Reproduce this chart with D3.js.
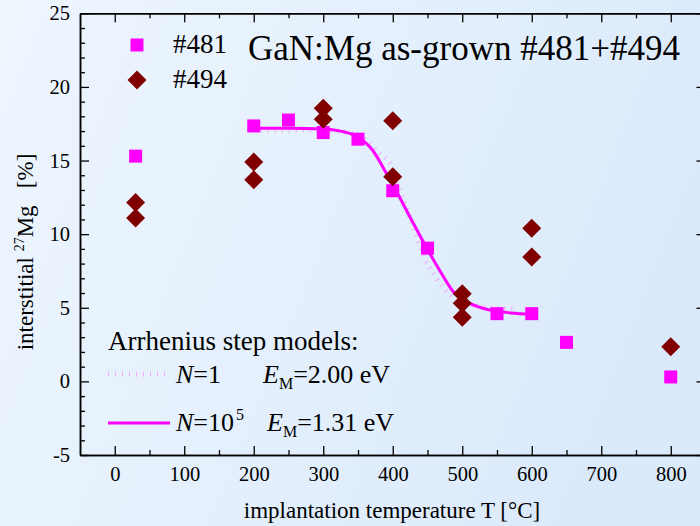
<!DOCTYPE html>
<html>
<head>
<meta charset="utf-8">
<script src="https://cdn.jsdelivr.net/npm/d3@7"></script>
<style>
  body { margin: 0; }
  svg text { font-family: "Liberation Serif", "Times New Roman", serif; fill: #000; }
</style>
</head>
<body>
<div id="chart"></div>
<script>
// sample #481 (squares)
const temp481 = [30, 200, 250, 300, 350, 400, 450, 550, 600, 650, 800];
const val481 = [15.3, 17.35, 17.75, 16.9, 16.45, 12.95, 9.05, 4.6, 4.6, 2.65, 0.3];
// sample #494 (diamonds)
const temp494 = [30, 30, 200, 200, 300, 300, 400, 400, 500, 500, 500, 600, 600, 800];
const val494 = [12.15, 11.1, 14.9, 13.7, 18.55, 17.8, 17.7, 13.9, 5.95, 5.3, 4.35, 10.4, 8.45, 2.35];
// Arrhenius step model N=10^5, E=1.31 eV
const fitTempN5 = [200, 250, 300, 325, 350, 371, 390, 411, 430, 449, 468, 487, 511, 540, 570, 600];
const fitValN5 = [17.2, 17.2, 17.15, 17.0, 16.6, 15.7, 14.2, 12.4, 10.7, 9.05, 7.5, 6.1, 5.3, 4.85, 4.65, 4.55];
// Arrhenius step model N=1, E=2.00 eV (faint dotted curve)
const fitTempN1 = [200, 300, 340, 367, 381, 396, 410, 430, 448, 458, 472, 487, 520, 550, 580];
const fitValN1 = [17.05, 17.05, 16.85, 16.15, 15.45, 14.8, 13.0, 10.5, 8.2, 7.4, 6.4, 5.75, 5.15, 4.95, 4.95];

const xTicks = [0, 100, 200, 300, 400, 500, 600, 700, 800];
const xMinor = [50, 150, 250, 350, 450, 550, 650, 750];
const yTicks = [-5, 0, 5, 10, 15, 20, 25];
const yMinor = d3.range(-4, 25).filter(v => v % 5 !== 0);

const W = 700, H = 526;

const svg = d3.select("#chart").append("svg")
  .attr("width", W)
  .attr("height", H)
  .style("display", "block");

// background gradient
const grad = svg.append("defs").append("linearGradient")
  .attr("id", "bg").attr("x1", 0).attr("y1", 0).attr("x2", 1).attr("y2", 0.3);
grad.append("stop").attr("offset", "0%").attr("stop-color", "#eef6fe");
grad.append("stop").attr("offset", "100%").attr("stop-color", "#dbeafb");
svg.append("rect").attr("width", W).attr("height", H).attr("fill", "url(#bg)");

const x = d3.scaleLinear().domain([-50, 850]).range([80, 705.5]);
const y = d3.scaleLinear().domain([-5, 25]).range([455, 13.3]);

const fmt = d => String(d); // plain hyphen for -5

function styleAxis(g) {
  g.attr("font-family", null);
  g.selectAll("path.domain").attr("stroke", "#000").attr("stroke-width", 1.5);
  g.selectAll(".tick line").attr("stroke", "#000").attr("stroke-width", 1.3);
  g.selectAll(".tick text").style("font-size", "20.5px");
}

// bottom
svg.append("g").attr("transform", `translate(0,${y(-5)})`)
  .call(d3.axisBottom(x).tickValues(xTicks).tickSize(-9).tickSizeOuter(0).tickPadding(11).tickFormat(fmt))
  .call(styleAxis);
svg.append("g").attr("transform", `translate(0,${y(-5)})`)
  .call(d3.axisBottom(x).tickValues(xMinor).tickSize(-5).tickSizeOuter(0).tickFormat(""))
  .call(styleAxis);
// top
svg.append("g").attr("transform", `translate(0,${y(25)})`)
  .call(d3.axisTop(x).tickValues(xTicks).tickSize(-9).tickSizeOuter(0).tickFormat(""))
  .call(styleAxis);
svg.append("g").attr("transform", `translate(0,${y(25)})`)
  .call(d3.axisTop(x).tickValues(xMinor).tickSize(-5).tickSizeOuter(0).tickFormat(""))
  .call(styleAxis);
// left
svg.append("g").attr("transform", `translate(${x(-50)},0)`)
  .call(d3.axisLeft(y).tickValues(yTicks).tickSize(-9).tickSizeOuter(0).tickPadding(10).tickFormat(fmt))
  .call(styleAxis);
svg.append("g").attr("transform", `translate(${x(-50)},0)`)
  .call(d3.axisLeft(y).tickValues(yMinor).tickSize(-5).tickSizeOuter(0).tickFormat(""))
  .call(styleAxis);
// right
svg.append("g").attr("transform", `translate(${x(850)},0)`)
  .call(d3.axisRight(y).tickValues(yTicks).tickSize(-9).tickSizeOuter(0).tickFormat(""))
  .call(styleAxis);
svg.append("g").attr("transform", `translate(${x(850)},0)`)
  .call(d3.axisRight(y).tickValues(yMinor).tickSize(-5).tickSizeOuter(0).tickFormat(""))
  .call(styleAxis);

// model curves
const line = d3.line().x(d => x(d[0])).y(d => y(d[1])).curve(d3.curveMonotoneX);
svg.append("path")
  .datum(d3.zip(fitTempN1, fitValN1))
  .attr("d", line)
  .attr("fill", "none")
  .attr("stroke", "#ff66ff")
  .attr("stroke-opacity", 0.5)
  .attr("stroke-width", 5)
  .attr("stroke-dasharray", "1 6");
svg.append("path")
  .datum(d3.zip(fitTempN5, fitValN5))
  .attr("d", line)
  .attr("fill", "none")
  .attr("stroke", "#ff00ff")
  .attr("stroke-width", 3);

// data points
const square = d3.symbol(d3.symbolSquare, 169);
const diamond = d3.symbol(d3.symbolSquare, 180);
svg.append("g").selectAll("path")
  .data(d3.zip(temp481, val481))
  .join("path")
  .attr("d", square)
  .attr("transform", d => `translate(${x(d[0])},${y(d[1])})`)
  .attr("fill", "#ff00ff");
svg.append("g").selectAll("path")
  .data(d3.zip(temp494, val494))
  .join("path")
  .attr("d", diamond)
  .attr("transform", d => `translate(${x(d[0])},${y(d[1])}) rotate(45)`)
  .attr("fill", "#800000");

// sample legend
svg.append("path").attr("d", square).attr("transform", "translate(137,45)").attr("fill", "#ff00ff");
svg.append("path").attr("d", diamond).attr("transform", "translate(137,80) rotate(45)").attr("fill", "#800000");
svg.append("text").attr("x", 173).attr("y", 53).style("font-size", "27px").text("#481");
svg.append("text").attr("x", 173).attr("y", 88).style("font-size", "27px").text("#494");

// title
svg.append("text").attr("x", 248).attr("y", 60).style("font-size", "35px")
  .text("GaN:Mg as-grown #481+#494");

// model legend
svg.append("text").attr("x", 108).attr("y", 350).style("font-size", "27px")
  .text("Arrhenius step models:");
svg.append("line").attr("x1", 108).attr("x2", 168).attr("y1", 374).attr("y2", 374)
  .attr("stroke", "#ff66ff").attr("stroke-opacity", 0.5)
  .attr("stroke-width", 5).attr("stroke-dasharray", "1 6");
svg.append("line").attr("x1", 108).attr("x2", 170).attr("y1", 423).attr("y2", 423)
  .attr("stroke", "#ff00ff").attr("stroke-width", 3);

const n1 = svg.append("text").attr("x", 176).attr("y", 383).style("font-size", "26px");
n1.append("tspan").style("font-style", "italic").text("N");
n1.append("tspan").text("=1");
const e1 = svg.append("text").attr("x", 263).attr("y", 383).style("font-size", "26px");
e1.append("tspan").style("font-style", "italic").text("E");
e1.append("tspan").style("font-size", "16px").attr("dy", 6).text("M");
e1.append("tspan").attr("dy", -6).text("=2.00 eV");

const n2 = svg.append("text").attr("x", 176).attr("y", 431).style("font-size", "26px");
n2.append("tspan").style("font-style", "italic").text("N");
n2.append("tspan").text("=10");
n2.append("tspan").style("font-size", "16px").attr("dy", -11).attr("dx", 2).text("5");
const e2 = svg.append("text").attr("x", 267).attr("y", 431).style("font-size", "26px");
e2.append("tspan").style("font-style", "italic").text("E");
e2.append("tspan").style("font-size", "16px").attr("dy", 6).text("M");
e2.append("tspan").attr("dy", -6).text("=1.31 eV");

// axis titles
svg.append("text").attr("x", 392).attr("y", 518).style("font-size", "23px")
  .attr("text-anchor", "middle")
  .text("implantation temperature T [°C]");

const yl = svg.append("text")
  .attr("transform", "translate(33,252) rotate(-90)")
  .attr("text-anchor", "middle")
  .style("font-size", "23px")
  .style("white-space", "pre");
yl.append("tspan").text("interstitial ");
yl.append("tspan").style("font-size", "14px").attr("dy", -9).text("27");
yl.append("tspan").attr("dy", 9).text("Mg   [%]");
</script>
</body>
</html>
